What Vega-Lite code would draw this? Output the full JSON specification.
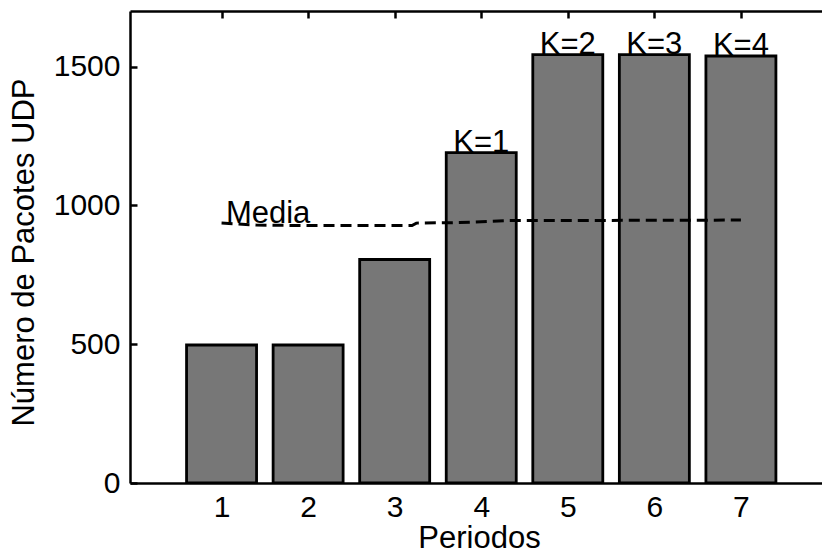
{
  "$schema": "https://vega.github.io/schema/vega-lite/v6.json",
  "width": 692,
  "height": 472,
  "autosize": {"type": "none"},
  "padding": {"left": 130, "top": 11, "right": 0, "bottom": 70},
  "background": "white",
  "config": {
    "view": {"stroke": null},
    "font": "Liberation Sans",
    "axis": {"domainColor": "black", "domainWidth": 2.5, "tickColor": "black", "tickWidth": 2.5, "labelColor": "black", "titleColor": "black", "labelFont": "Liberation Sans", "titleFont": "Liberation Sans", "labelFontSize": 30, "titleFontSize": 31, "titleFontWeight": "normal", "grid": false}
  },
  "datasets": {
    "bars": [
      {"Periodo": 1, "Paquetes": 497, "Etiqueta": ""},
      {"Periodo": 2, "Paquetes": 497, "Etiqueta": ""},
      {"Periodo": 3, "Paquetes": 805, "Etiqueta": ""},
      {"Periodo": 4, "Paquetes": 1190, "Etiqueta": "K=1"},
      {"Periodo": 5, "Paquetes": 1543, "Etiqueta": "K=2"},
      {"Periodo": 6, "Paquetes": 1543, "Etiqueta": "K=3"},
      {"Periodo": 7, "Paquetes": 1538, "Etiqueta": "K=4"}
    ],
    "media": [
      {"x": 1, "y": 936},
      {"x": 1.4, "y": 929},
      {"x": 2, "y": 927},
      {"x": 3.2, "y": 927},
      {"x": 3.25, "y": 936},
      {"x": 3.75, "y": 938},
      {"x": 4.3, "y": 945},
      {"x": 7, "y": 947}
    ],
    "mediaLabel": [{"x": 1.05, "y": 938, "t": "Media"}]
  },
  "layer": [
    {
      "data": {"name": "bars"},
      "mark": {"type": "bar", "width": 70, "fill": "#777777", "stroke": "black", "strokeWidth": 2.8, "clip": true},
      "encoding": {
        "x": {"field": "Periodo", "type": "quantitative", "scale": {"domain": [0, 7.879], "nice": false, "zero": false},
          "axis": {"orient": "bottom", "values": [1, 2, 3, 4, 5, 6, 7], "tickSize": -7, "labelPadding": 16, "title": "Periodos", "titleFontSize": 31, "titleX": 349, "titleY": 64, "titleBaseline": "alphabetic", "titleAnchor": null}},
        "y": {"field": "Paquetes", "type": "quantitative", "scale": {"domain": [0, 1700], "nice": false},
          "axis": {"values": [0, 500, 1000, 1500], "format": "d", "tickSize": -7, "labelPadding": 17, "title": "Número de Pacotes UDP", "titleX": -97, "titleY": 241, "titleBaseline": "alphabetic", "titleAnchor": null}}
      }
    },
    {
      "data": {"name": "bars"},
      "mark": {"type": "text", "font": "Liberation Sans", "fontSize": 31, "baseline": "alphabetic", "align": "center", "dy": -1, "color": "black"},
      "encoding": {
        "x": {"field": "Periodo", "type": "quantitative", "axis": null},
        "y": {"field": "Paquetes", "type": "quantitative", "axis": null},
        "text": {"field": "Etiqueta"}
      }
    },
    {
      "data": {"name": "media"},
      "mark": {"type": "line", "color": "black", "strokeWidth": 3, "strokeDash": [11, 6]},
      "encoding": {
        "x": {"field": "x", "type": "quantitative", "axis": null},
        "y": {"field": "y", "type": "quantitative", "axis": null}
      }
    },
    {
      "data": {"name": "mediaLabel"},
      "mark": {"type": "text", "font": "Liberation Sans", "fontSize": 31, "baseline": "alphabetic", "align": "left", "color": "black"},
      "encoding": {
        "x": {"field": "x", "type": "quantitative", "axis": null},
        "y": {"field": "y", "type": "quantitative", "axis": null},
        "text": {"field": "t"}
      }
    },
    {
      "data": {"values": [{"x": 1}]},
      "mark": {"type": "rule", "opacity": 0},
      "encoding": {
        "x": {"field": "x", "type": "quantitative",
          "axis": {"orient": "top", "values": [1, 2, 3, 4, 5, 6, 7], "tickSize": -7, "labels": false, "title": null}}
      }
    }
  ],
  "resolve": {"axis": {"x": "independent", "y": "independent"}}
}
